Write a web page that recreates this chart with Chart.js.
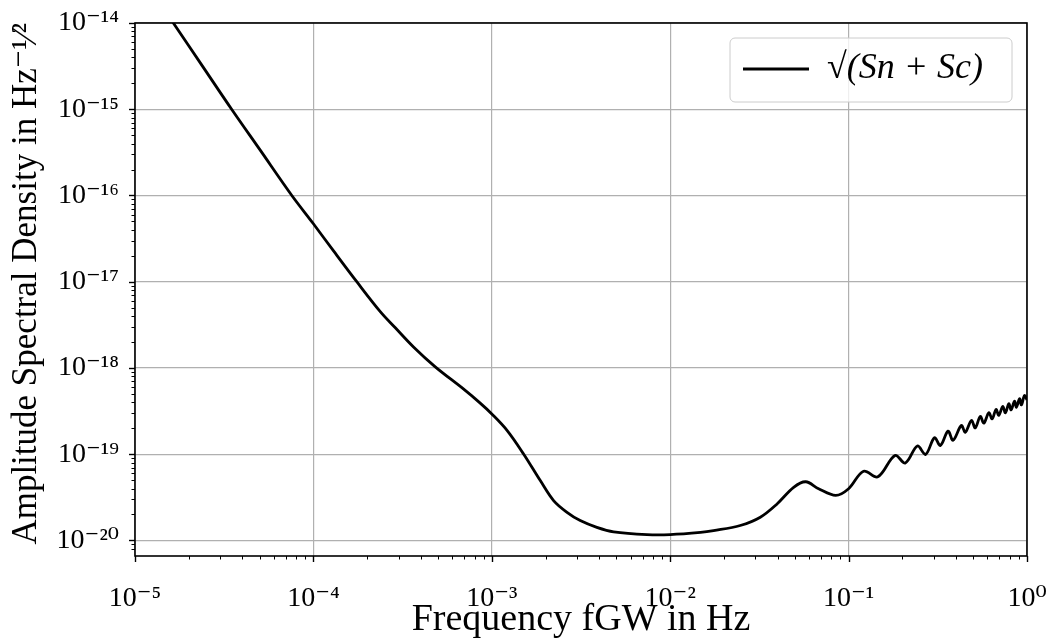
<!DOCTYPE html>
<html><head><meta charset="utf-8">
<script src="https://cdn.jsdelivr.net/npm/chart.js@4.4.0/dist/chart.umd.min.js"></script>
<style>html,body{margin:0;padding:0;background:#fff;} #wrap{width:1052px;height:643px;position:relative;}</style>
</head><body><div id="wrap"><canvas id="c" width="1052" height="643"></canvas></div>
<script>
// ---- data ----
const frequencies = [1.0e-5, 1.64e-5, 2.41e-5, 3.48e-5, 5.0e-5, 7.57e-5, 1.0e-4, 1.3e-4, 1.75e-4, 2.37e-4, 2.87e-4, 3.64e-4,
  4.82e-4, 6.93e-4, 8.61e-4, 1.0e-3, 1.22e-3, 1.51e-3, 1.87e-3, 2.22e-3, 2.64e-3, 3.13e-3,
  3.88e-3, 4.82e-3, 7.41e-3, 1.0e-2, 1.48e-2, 1.75e-2, 2.47e-2, 3.2e-2, 3.97e-2, 4.92e-2,
  5.75e-2, 6.79e-2, 8.47e-2, 0.1, 0.1213, 0.1459, 0.182, 0.208, 0.243, 0.27,
  0.303, 0.327, 0.361, 0.385, 0.4285, 0.451, 0.488, 0.513, 0.547, 0.573,
  0.611, 0.638, 0.671, 0.695, 0.731, 0.757, 0.791, 0.815, 0.851, 0.873,
  0.908, 0.931, 0.968, 1.0];
const asdValues = [4.6e-14, 1.0e-14, 3.08e-15, 1e-15, 3.42e-16, 1e-16, 4.7e-17, 2.26e-17, 1e-17, 4.5e-18, 2.94e-18, 1.75e-18,
  1.03e-18, 5.71e-19, 3.91e-19, 2.93e-19, 1.88e-19, 1e-19, 4.94e-20, 2.9e-20, 2.12e-20, 1.70e-20,
  1.42e-20, 1.26e-20, 1.17e-20, 1.17e-20, 1.24e-20, 1.30e-20, 1.49e-20, 1.86e-20, 2.65e-20, 4.13e-20,
  4.79e-20, 3.98e-20, 3.33e-20, 3.98e-20, 6.35e-20, 5.47e-20, 9.66e-20, 7.91e-20, 1.245e-19, 9.93e-20,
  1.55e-19, 1.26e-19, 1.85e-19, 1.45e-19, 2.15e-19, 1.80e-19, 2.46e-19, 2.02e-19, 2.74e-19, 2.29e-19,
  3.02e-19, 2.57e-19, 3.31e-19, 2.82e-19, 3.57e-19, 3.02e-19, 3.84e-19, 3.27e-19, 4.12e-19, 3.51e-19,
  4.39e-19, 3.73e-19, 4.79e-19, 4.27e-19];
const seriesLabel = '\u221A(Sn + Sc)';
const xTitle = 'Frequency fGW in Hz';
const yTitle = 'Amplitude Spectral Density in Hz\u207B\u00B9\u2044\u00B2';
const xRange = [1e-5, 1];
const yRange = [6.6e-21, 1e-14];

// ---- helpers ----
const SUP = {'0':'\u2070','1':'\u00B9','2':'\u00B2','3':'\u00B3','4':'\u2074','5':'\u2075','6':'\u2076','7':'\u2077','8':'\u2078','9':'\u2079','-':'\u207B'};
function isMajor(v){ const l = Math.log10(v); return Math.abs(l - Math.round(l)) < 1e-6; }
function isMinorInt(v){ const e = Math.floor(Math.log10(v) + 1e-9); const s = v / Math.pow(10, e); return Math.abs(s - Math.round(s)) < 1e-6 && !isMajor(v); }
function expLabel(v){ if (!isMajor(v)) return ''; const e = String(Math.round(Math.log10(v))); return '10' + e.split('').map(c => SUP[c]).join(''); }
const FONT = "'Liberation Serif', 'DejaVu Serif', serif";
const LEG = { x0: 730, y0: 38, x1: 1012, y1: 102, L: 733, T: 41, font: 36 };

const tickPlugin = {
  id: 'mplTicks',
  afterLayout(chart) {
    const lg = chart.legend;
    if (!lg) return;
    lg.left = LEG.L; lg.top = LEG.T; lg.right = LEG.L + lg.width; lg.bottom = LEG.T + lg.height;
    if (!lg._wrapped) {
      const orig = lg.draw.bind(lg);
      lg.draw = function(ca) {
        const ctx = chart.ctx;
        const x0 = LEG.x0, y0 = LEG.y0, w = LEG.x1 - LEG.x0, h = LEG.y1 - LEG.y0, r = 5;
        ctx.save();
        ctx.beginPath();
        ctx.moveTo(x0 + r, y0); ctx.lineTo(x0 + w - r, y0); ctx.arcTo(x0 + w, y0, x0 + w, y0 + r, r);
        ctx.lineTo(x0 + w, y0 + h - r); ctx.arcTo(x0 + w, y0 + h, x0 + w - r, y0 + h, r);
        ctx.lineTo(x0 + r, y0 + h); ctx.arcTo(x0, y0 + h, x0, y0 + h - r, r);
        ctx.lineTo(x0, y0 + r); ctx.arcTo(x0, y0, x0 + r, y0, r); ctx.closePath();
        ctx.fillStyle = 'rgba(255,255,255,0.8)'; ctx.fill();
        ctx.strokeStyle = '#cccccc'; ctx.lineWidth = 1; ctx.stroke();
        ctx.restore();
        orig(ca);
      };
      lg._wrapped = true;
    }
  },
  afterDraw(chart) {
    const ctx = chart.ctx, ca = chart.chartArea;
    ctx.save();
    ctx.strokeStyle = '#000';
    const xs = chart.scales.x, ys = chart.scales.y;
    xs.ticks.forEach(t => {
      const maj = isMajor(t.value); if (!maj && !isMinorInt(t.value)) return;
      const p = Math.round(xs.getPixelForValue(t.value)) + 0.5;
      ctx.lineWidth = maj ? 1.4 : 1; ctx.beginPath();
      ctx.moveTo(p, ca.bottom); ctx.lineTo(p, ca.bottom + (maj ? 6 : 3.5)); ctx.stroke();
    });
    ys.ticks.forEach(t => {
      const maj = isMajor(t.value); if (!maj && !isMinorInt(t.value)) return;
      const p = Math.round(ys.getPixelForValue(t.value)) + 0.5;
      ctx.lineWidth = maj ? 1.4 : 1; ctx.beginPath();
      ctx.moveTo(ca.left, p); ctx.lineTo(ca.left - (maj ? 6 : 3.5), p); ctx.stroke();
    });
    ctx.lineWidth = 1.6;
    ctx.strokeRect(ca.left, ca.top, ca.right - ca.left, ca.bottom - ca.top);
    ctx.restore();
  }
};

new Chart(document.getElementById('c'), {
  type: 'line',
  data: {
    datasets: [{
      label: seriesLabel,
      data: frequencies.map((f, i) => ({x: f, y: asdValues[i]})),
      borderColor: '#000',
      backgroundColor: '#000',
      borderWidth: 2.8,
      pointRadius: 0,
      tension: 0.35,
      clip: 0,
      fill: false
    }]
  },
  options: {
    responsive: false,
    animation: false,
    events: [],
    layout: { padding: { top: 23, right: 25, left: 0, bottom: 0 } },
    plugins: {
      tooltip: { enabled: false },
      legend: {
        display: true,
        position: 'chartArea',
        align: 'start',
        labels: {
          font: { family: FONT, size: LEG.font, style: 'italic' },
          color: '#000',
          boxWidth: 66,
          boxHeight: 3,
          padding: 10,
          generateLabels: () => [{ text: seriesLabel, fillStyle: '#000', strokeStyle: '#000', lineWidth: 0, hidden: false, datasetIndex: 0, fontColor: '#000' }]
        }
      }
    },
    scales: {
      x: {
        type: 'logarithmic',
        min: xRange[0], max: xRange[1],
        afterFit(s) { s.height = 87; s.paddingLeft = 0; s.paddingRight = 0; },
        grid: { z: -1, drawTicks: false, lineWidth: 1.2, color: c => (c.tick && isMajor(c.tick.value)) ? '#b0b0b0' : 'rgba(0,0,0,0)' },
        border: { display: false },
        ticks: { autoSkip: false, maxRotation: 0, padding: 26, color: '#000', font: { family: FONT, size: 28 }, callback: v => expLabel(v) },
        title: { display: true, text: xTitle, color: '#000', font: { family: FONT, size: 38 }, padding: { top: 0, bottom: 0 } }
      },
      y: {
        type: 'logarithmic',
        min: yRange[0], max: yRange[1],
        afterFit(s) { s.width = 135; s.paddingTop = 0; s.paddingBottom = 0; },
        grid: { z: -1, drawTicks: false, lineWidth: 1.2, color: c => (c.tick && isMajor(c.tick.value)) ? '#b0b0b0' : 'rgba(0,0,0,0)' },
        border: { display: false },
        ticks: { autoSkip: false, padding: 16, color: '#000', font: { family: FONT, size: 28 }, callback: v => expLabel(v) },
        title: { display: true, text: yTitle, align: 'end', color: '#000', font: { family: FONT, size: 35 }, padding: { top: 6, bottom: 0 } }
      }
    }
  },
  plugins: [tickPlugin]
});
</script>
</body></html>
